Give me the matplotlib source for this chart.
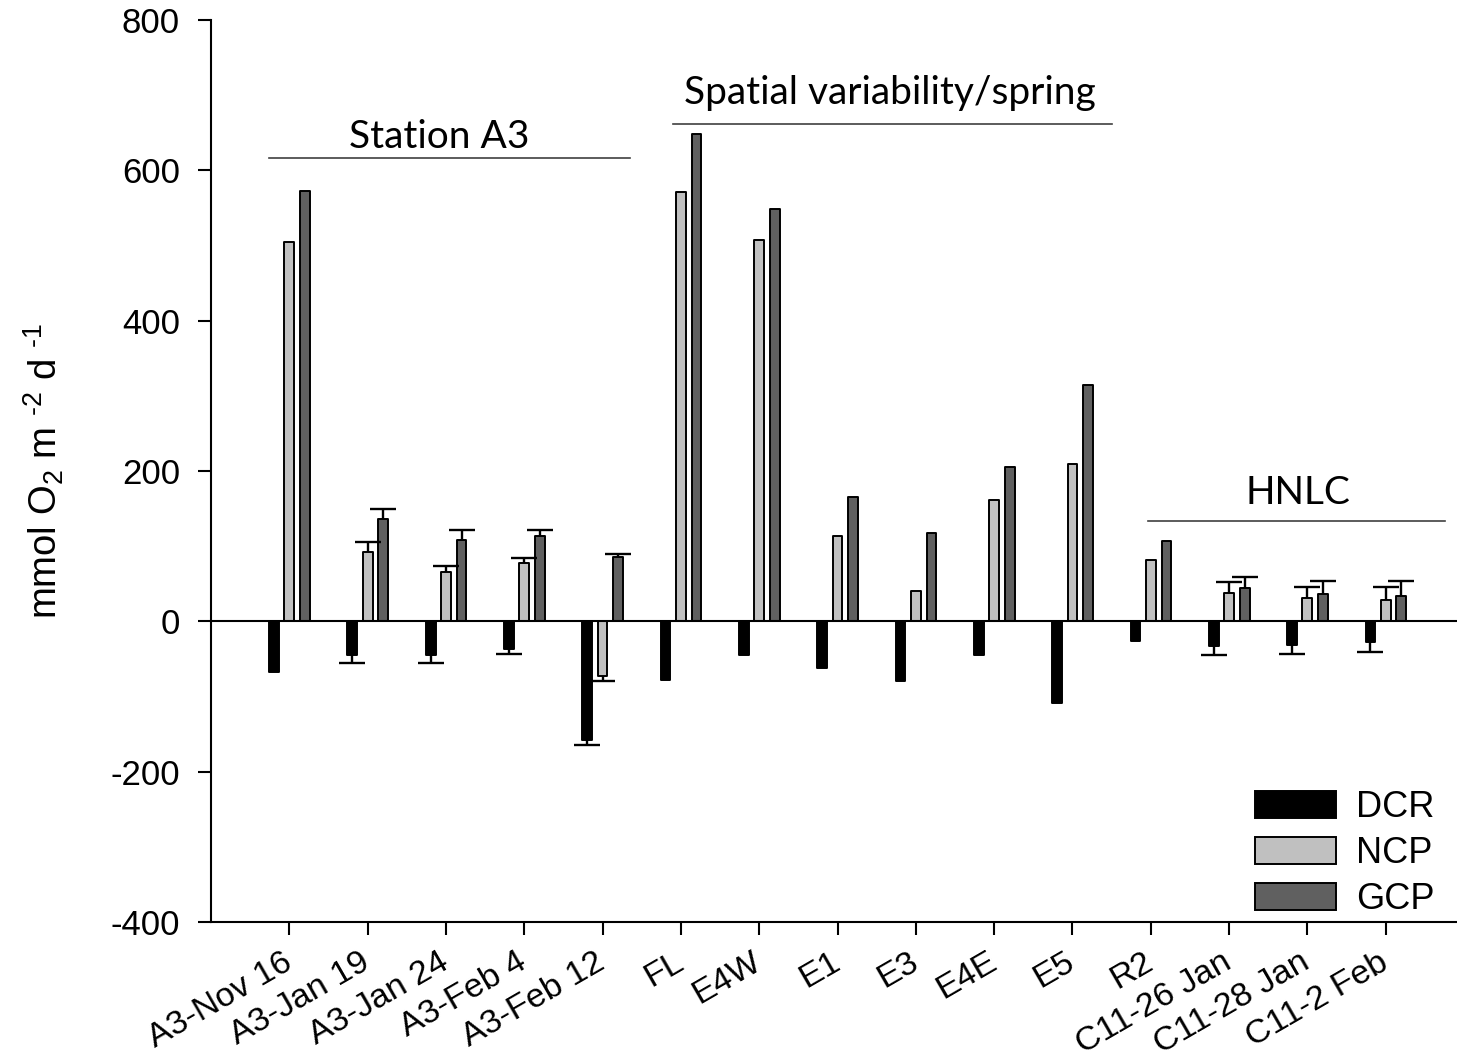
import numpy as np
import matplotlib
matplotlib.use('Agg')
import matplotlib.pyplot as plt
from matplotlib.patches import Patch

plt.rcParams['font.family'] = ['Liberation Sans', 'DejaVu Sans']
plt.rcParams['mathtext.default'] = 'regular'
plt.rcParams['axes.unicode_minus'] = False

categories = ['A3-Nov 16', 'A3-Jan 19', 'A3-Jan 24', 'A3-Feb 4', 'A3-Feb 12',
              'FL', 'E4W', 'E1', 'E3', 'E4E', 'E5', 'R2',
              'C11-26 Jan', 'C11-28 Jan', 'C11-2 Feb']
nan = np.nan
dcr = [-68, -45, -45, -37, -158, -78, -45, -62, -80, -45, -108, -26, -33, -31, -28]
ncp = [505, 92, 65, 77, -73, 571, 507, 113, 40, 162, 209, 82, 38, 31, 28]
gcp = [572, 136, 108, 113, 85, 648, 549, 166, 118, 205, 314, 107, 45, 36, 34]
dcr_err = [nan, 10, 11, 6, 6, nan, nan, nan, nan, nan, nan, nan, 12, 13, 13]
ncp_err = [nan, 13, 9, 7, 6, nan, nan, nan, nan, nan, nan, nan, 14, 15, 18]
gcp_err = [nan, 13, 13, 8, 5, nan, nan, nan, nan, nan, nan, nan, 14, 18, 19]
series_names = ['DCR', 'NCP', 'GCP']
group_labels = ['Station A3', 'Spatial variability/spring', 'HNLC']

W, H = 1457, 1059
fig = plt.figure(figsize=(W / 100, H / 100), dpi=100)
ax = fig.add_axes([211 / W, 1 - 922 / H, (1464 - 211) / W, (922 - 20) / H])

x = np.arange(len(categories))
colors = ['#000000', '#c0c0c0', '#606060']
offsets = [-0.195, 0.0, 0.2]
width = 0.125
cap = 0.165
for vals, errs, col, off, name in zip([dcr, ncp, gcp], [dcr_err, ncp_err, gcp_err],
                                      colors, offsets, series_names):
    vals = np.array(vals, float)
    errs = np.array(errs, float)
    ax.bar(x + off, vals, width, color=col, edgecolor='black', linewidth=1.4,
           zorder=3, label=name, joinstyle='round')
    m = ~np.isnan(errs)
    ends = vals[m] + np.sign(vals[m]) * errs[m]
    ax.vlines(x[m] + off, vals[m], ends, color='black', lw=1.7, zorder=4)
    ax.hlines(ends, x[m] + off - cap, x[m] + off + cap, color='black', lw=1.7, zorder=4)

ax.axhline(0, color='black', lw=1.5, zorder=5)

ax.set_xlim(-1, 15)
ax.set_ylim(-400, 800)
ax.set_yticks([-400, -200, 0, 200, 400, 600, 800])
ax.set_xticks(x)
ax.set_xticklabels(categories, rotation=30, ha='right', va='center',
                   rotation_mode='anchor', fontsize=24.5)
ax.tick_params(axis='x', length=9.4, width=1.5, pad=18)
ax.tick_params(axis='y', length=9.4, width=1.5, pad=13, labelsize=25)
for s in ['top', 'right']:
    ax.spines[s].set_visible(False)
for s in ['left', 'bottom']:
    ax.spines[s].set_linewidth(1.5)

ax.set_ylabel('mmol O$_2$ m $^{\u20102}$ d $^{\u20101}$', fontsize=27.5)
ax.yaxis.set_label_coords((66 - 211) / (1464 - 211), 0.5)

# group annotations
ann_font = dict(family=['Lato', 'DejaVu Sans'], fontsize=28, ha='center', va='baseline')
ax.plot([-0.26, 4.35], [616, 616], color='#404040', lw=1.2, zorder=2)
ax.text(1.91, 630, group_labels[0], **ann_font)
ax.plot([4.90, 10.50], [662, 662], color='#404040', lw=1.2, zorder=2)
ax.text(7.67, 688, group_labels[1], **ann_font)
ax.plot([10.97, 14.76], [133, 133], color='#404040', lw=1.2, zorder=2)
ax.text(12.88, 156, group_labels[2], **ann_font)

handles = [Patch(facecolor=c, edgecolor='black', linewidth=1.4) for c in colors]
ax.legend(handles, series_names, loc='upper left',
          bbox_to_anchor=(1255 / W, 1 - 790 / H), bbox_transform=fig.transFigure,
          frameon=False, fontsize=26, handlelength=2.25, handleheight=0.78,
          handletextpad=0.55, labelspacing=0.3, borderpad=0, borderaxespad=0)

fig.savefig('out.png', dpi=100)
